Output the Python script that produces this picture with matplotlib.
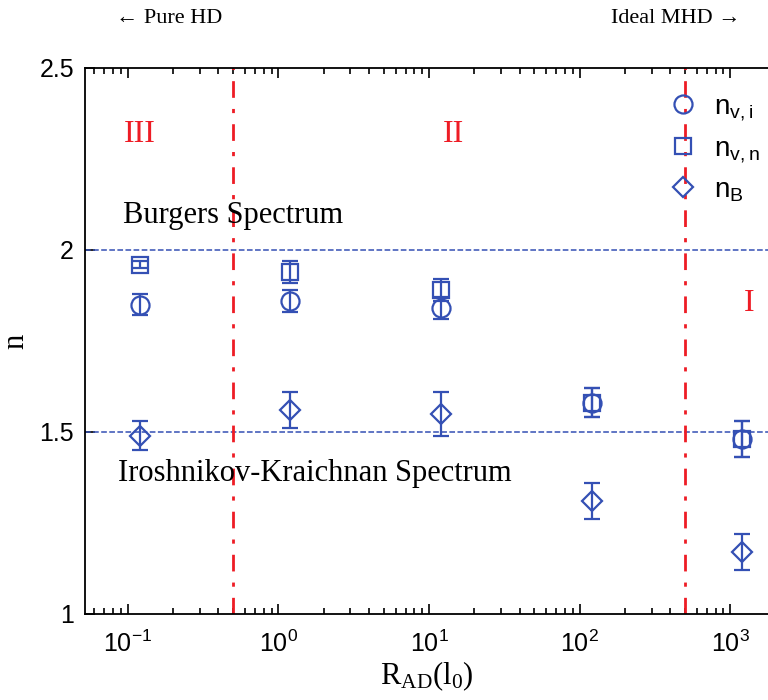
import matplotlib
matplotlib.use('Agg')
import matplotlib.pyplot as plt
from matplotlib.lines import Line2D
import numpy as np

# data
r_ad = [0.12, 1.2, 12, 120, 1200]
n_vi = [1.85, 1.86, 1.84, 1.58, 1.48]
n_vi_err = [0.03, 0.03, 0.03, 0.04, 0.05]
n_vn = [1.96, 1.94, 1.89, 1.58, 1.48]
n_vn_err = [0.01, 0.03, 0.03, 0.04, 0.05]
n_b = [1.49, 1.56, 1.55, 1.31, 1.17]
n_b_err = [0.04, 0.05, 0.06, 0.05, 0.05]

burgers = 2.0
ik = 1.5
boundaries = [0.5, 500]

blue = '#3450b4'
red = '#ee1c25'
sans = 'Liberation Sans'
serif = 'Liberation Serif'

fig = plt.figure(figsize=(7.68, 7.0), dpi=100)
ax = fig.add_axes([0.1107, 0.1229, 0.8893, 0.78])

ax.axhline(burgers, color=blue, ls='--', lw=1.1)
ax.axhline(ik, color=blue, ls='--', lw=1.1)
for b in boundaries:
    ax.axvline(b, color=red, ls='-.', lw=2.0, dashes=(6, 4, 1.5, 4))

eb = dict(color=blue, ls='none', mfc='none', mec=blue, mew=1.6,
          elinewidth=1.6, capsize=6, capthick=1.6)
ax.errorbar(r_ad, n_vi, yerr=n_vi_err, fmt='o', ms=13, **eb)
ax.errorbar(r_ad, n_vn, yerr=n_vn_err, fmt='s', ms=11, **eb)
ax.errorbar(r_ad, n_b, yerr=n_b_err, fmt='D', ms=10, **eb)

ax.set_xscale('log')
ax.set_xlim(0.052, 1780)
ax.set_ylim(1, 2.5)
ax.set_yticks([1, 1.5, 2, 2.5])
ax.set_yticklabels(['1', '1.5', '2', '2.5'])
ax.tick_params(which='both', direction='in', top=True, right=False,
               labelsize=18, width=1.2)
ax.tick_params(which='major', length=7, pad=8)
ax.tick_params(axis='x', which='major', pad=12)
ax.tick_params(which='minor', length=4)
for lab in ax.get_xticklabels() + ax.get_yticklabels():
    lab.set_fontfamily(sans)
ax.spines['right'].set_visible(False)
for s in ['left', 'top', 'bottom']:
    ax.spines[s].set_linewidth(1.3)

ax.set_xlabel(r'$\mathregular{R_{AD}(l_0)}$', fontsize=22, family=serif, labelpad=2)
ax.set_ylabel('n', fontsize=22, family=serif)
ax.yaxis.set_label_coords(-0.08, 0.5)

ax.text(0.0926, 2.096, 'Burgers Spectrum', fontsize=22, family=serif, va='center')
ax.text(0.0858, 1.387, 'Iroshnikov-Kraichnan Spectrum', fontsize=22, family=serif, va='center')
ax.text(0.12, 2.316, 'III', fontsize=23, family=serif, color=red, ha='center', va='center')
ax.text(14.5, 2.316, 'II', fontsize=23, family=serif, color=red, ha='center', va='center')
ax.text(1330, 1.854, 'I', fontsize=23, family=serif, color=red, ha='center', va='center')

fig.text(0.22, 0.974, '← Pure HD', fontsize=16, family=serif, ha='center', va='center')
fig.text(0.88, 0.974, 'Ideal MHD →', fontsize=16, family=serif, ha='center', va='center')

handles = [
    Line2D([], [], ls='none', marker='o', ms=13, mfc='none', mec=blue, mew=1.6),
    Line2D([], [], ls='none', marker='s', ms=11, mfc='none', mec=blue, mew=1.6),
    Line2D([], [], ls='none', marker='D', ms=10, mfc='none', mec=blue, mew=1.6),
]
labels = [r'$\mathregular{n_{v,i}}$', r'$\mathregular{n_{v,n}}$', r'$\mathregular{n_B}$']
ax.legend(handles, labels, loc='upper right', bbox_to_anchor=(1.025, 0.998),
          frameon=False, prop={'family': sans, 'size': 20}, labelspacing=0.45,
          handletextpad=0.5, handlelength=1.2)

fig.savefig('out.png', dpi=100)
